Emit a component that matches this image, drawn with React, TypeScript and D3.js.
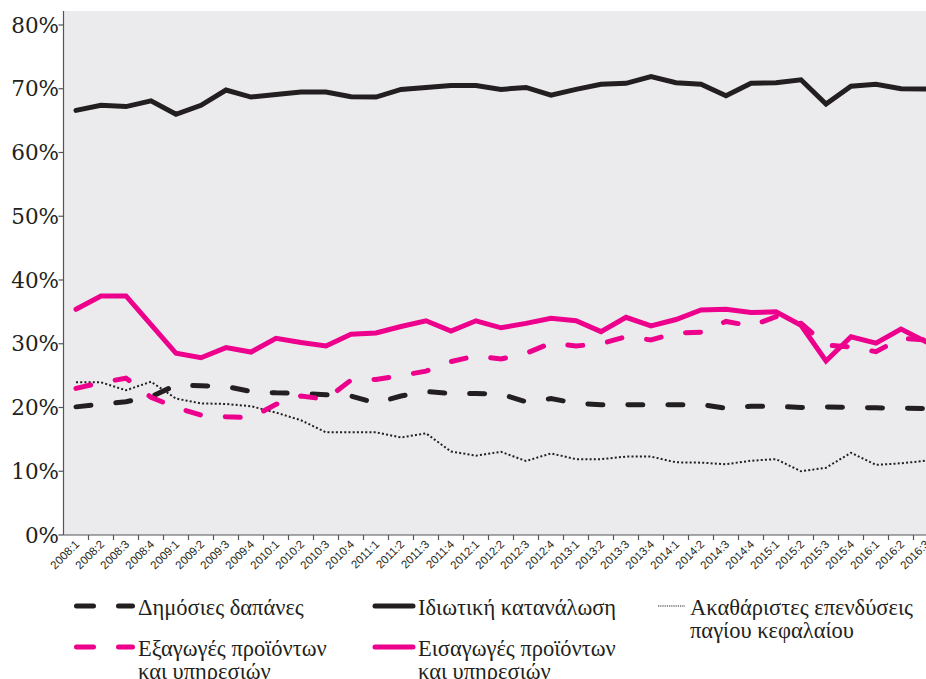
import React from "react";
import * as d3 from "d3";

const years = ["2008", "2009", "2010", "2011", "2012", "2013", "2014", "2015", "2016"];
const categories: string[] = [];
years.forEach((y) => {
  for (let q = 1; q <= 4; q++) {
    if (y === "2016" && q > 3) break;
    categories.push(`${y}:${q}`);
  }
});

const privateConsumption = [66.6, 67.4, 67.2, 68.1, 66.0, 67.4, 69.8, 68.7, 69.1, 69.5, 69.5, 68.75, 68.7, 69.9, 70.2, 70.5, 70.5, 69.9, 70.2, 69.0, 69.9, 70.7, 70.85, 71.9, 70.95, 70.7, 68.9, 70.85, 70.95, 71.4, 67.6, 70.4, 70.7, 70.0, 69.96];
const imports = [35.4, 37.5, 37.5, 33.0, 28.5, 27.8, 29.4, 28.7, 30.85, 30.2, 29.65, 31.5, 31.7, 32.7, 33.6, 32.0, 33.6, 32.5, 33.2, 34.0, 33.6, 31.9, 34.15, 32.8, 33.8, 35.3, 35.4, 34.9, 35.0, 32.9, 27.3, 31.1, 30.1, 32.3, 30.3];
const exportsS = [23.0, 23.9, 24.6, 21.6, 20.0, 18.8, 18.55, 18.4, 20.5, 21.8, 21.3, 24.3, 24.4, 25.0, 25.7, 27.2, 28.1, 27.6, 28.5, 30.1, 29.65, 30.0, 31.1, 30.6, 31.7, 31.8, 33.5, 32.8, 34.25, 33.2, 29.8, 29.5, 28.75, 30.85, 30.6];
const publicSpending = [20.1, 20.5, 20.9, 21.7, 23.5, 23.4, 23.3, 22.5, 22.3, 22.2, 22.0, 21.8, 20.7, 21.8, 22.5, 22.2, 22.2, 22.1, 20.9, 21.4, 20.65, 20.45, 20.45, 20.4, 20.45, 20.45, 19.9, 20.2, 20.2, 20.0, 20.1, 20.0, 19.95, 19.9, 19.85];
const grossCapital = [23.95, 23.95, 22.7, 24.05, 21.4, 20.65, 20.55, 20.2, 19.2, 18.0, 16.1, 16.1, 16.1, 15.3, 15.95, 13.1, 12.45, 13.05, 11.6, 12.8, 11.9, 11.9, 12.3, 12.3, 11.4, 11.35, 11.1, 11.65, 11.9, 10.0, 10.55, 12.9, 11.0, 11.25, 11.65];

const yTicks = [0, 10, 20, 30, 40, 50, 60, 70, 80];

const BLACK = "#231f20";
const PINK = "#ec008c";

type SeriesDef = { name: string[]; values: number[]; color: string; width: number; dash?: string; cap: "round" | "butt" };

const series: SeriesDef[] = [
  { name: ["Ακαθάριστες επενδύσεις", "παγίου κεφαλαίου"], values: grossCapital, color: BLACK, width: 2, dash: "2 2.2", cap: "butt" },
  { name: ["Δημόσιες δαπάνες"], values: publicSpending, color: BLACK, width: 5, dash: "15 25", cap: "round" },
  { name: ["Εξαγωγές προϊόντων", "και υπηρεσιών"], values: exportsS, color: PINK, width: 5, dash: "15 25", cap: "round" },
  { name: ["Ιδιωτική κατανάλωση"], values: privateConsumption, color: BLACK, width: 5, cap: "round" },
  { name: ["Εισαγωγές προϊόντων", "και υπηρεσιών"], values: imports, color: PINK, width: 5, cap: "round" },
];

export default function App() {
  const W = 926;
  const H = 679;
  const left = 63.5;
  const bw = 25;
  const x = d3.scaleBand<string>().domain(categories).range([left, left + bw * categories.length]).padding(0);
  const y = d3.scaleLinear().domain([0, 80]).range([535, 25]);
  const plotTop = 11;
  const bottom = y(0);
  const cx = (c: string) => (x(c) as number) + x.bandwidth() / 2;

  const line = d3
    .line<number>()
    .x((_, i) => cx(categories[i]))
    .y((v) => y(v));

  const legendItems = [
    { s: series[1], sx: 76.5, tx: 138, y: 606, kind: "dash" },
    { s: series[3], sx: 375, tx: 418, y: 606, kind: "solid" },
    { s: series[0], sx: 658, tx: 690, y: 606, kind: "dot" },
    { s: series[2], sx: 76.5, tx: 138, y: 647, kind: "dash" },
    { s: series[4], sx: 375, tx: 418, y: 647, kind: "solid" },
  ];

  return (
    <svg width={W} height={H} style={{ position: "absolute", left: 0, top: 0, background: "#fff" }}>
      <rect x={left} y={plotTop} width={W - left + 20} height={bottom - plotTop} fill="#ebebee" />
      {/* left axis */}
      <line x1={left} x2={left} y1={plotTop} y2={bottom} stroke="#555" strokeWidth={1.2} />
      {yTicks.map((t) => (
        <g key={t}>
          <line x1={left - 5} x2={left} y1={y(t)} y2={y(t)} stroke="#555" strokeWidth={1.2} />
          <text x={59} y={y(t)} dy="0.35em" textAnchor="end" fontFamily="'DejaVu Serif', serif" fontSize={21.5} fill="#231f20">
            {t}%
          </text>
        </g>
      ))}
      {/* bottom axis */}
      <line x1={left} x2={W + 20} y1={bottom} y2={bottom} stroke="#555" strokeWidth={1.2} />
      {categories.map((c) => (
        <g key={c}>
          <line x1={(x(c) as number) + bw} x2={(x(c) as number) + bw} y1={bottom} y2={bottom + 5} stroke="#555" strokeWidth={1.2} />
          <text
            transform={`translate(${cx(c) + 4},${bottom + 10}) rotate(-45)`}
            textAnchor="end"
            fontFamily="'Liberation Sans', sans-serif"
            fontSize={11.5}
            fill="#231f20"
          >
            {c}
          </text>
        </g>
      ))}
      {/* series */}
      {series.map((s, i) => (
        <path
          key={i}
          d={line(s.values) as string}
          fill="none"
          stroke={s.color}
          strokeWidth={s.width}
          strokeDasharray={s.dash}
          strokeLinecap={s.cap}
          strokeLinejoin="miter"
        />
      ))}
      {/* legend */}
      {legendItems.map((it, i) => (
        <g key={i}>
          {it.kind === "dash" && (
            <line x1={it.sx} x2={132.5} y1={it.y} y2={it.y} stroke={it.s.color} strokeWidth={5} strokeDasharray="17 25" strokeLinecap="round" />
          )}
          {it.kind === "solid" && (
            <line x1={it.sx} x2={413} y1={it.y} y2={it.y} stroke={it.s.color} strokeWidth={5} strokeLinecap="round" />
          )}
          {it.kind === "dot" && (
            <line x1={it.sx} x2={685} y1={it.y} y2={it.y} stroke={it.s.color} strokeWidth={1.2} strokeDasharray="1.2 1" />
          )}
          {it.s.name.map((n, j) => (
            <text key={j} x={it.tx} y={it.y + 8.5 + j * 23} fontFamily="'Liberation Serif', serif" fontSize={22.5} fill="#231f20">
              {n}
            </text>
          ))}
        </g>
      ))}
    </svg>
  );
}
